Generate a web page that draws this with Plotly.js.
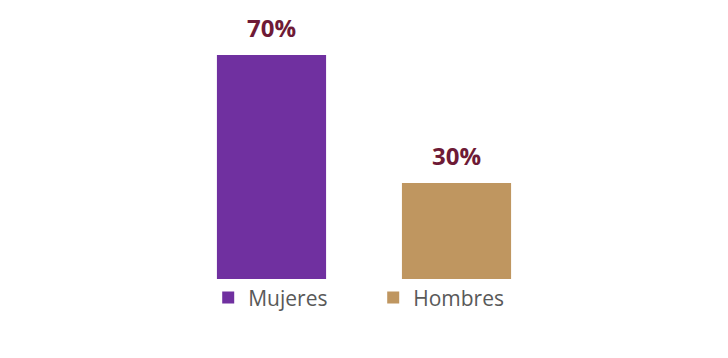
<!DOCTYPE html>
<html><head><meta charset="utf-8">
<script src="https://cdn.plot.ly/plotly-3.0.1.min.js"></script>
<style>body{margin:0;background:#fff}#c{width:728px;height:358px}</style>
</head><body><div id="c"></div>
<script>
const categories = ["Mujeres", "Hombres"];
const values = [70, 30];
const labels = ["70%", "30%"];
const colors = ["#7030A0", "#BF9660"];

const traces = categories.map((c, i) => ({
  type: "bar", name: c, x: [c], y: [values[i]],
  marker: {color: colors[i]}, hoverinfo: "none"
}));

const annotations = categories.map((c, i) => ({
  x: c, y: values[i], xref: "x", yref: "y", text: labels[i], showarrow: false,
  yanchor: "bottom", yshift: 9,
  font: {family: "Open Sans, sans-serif", size: 24, color: "#6E1A36", weight: 700}
}));

Plotly.newPlot("c", traces, {
  width: 728, height: 358, barmode: "relative", bargap: 0.41,
  margin: {l: 179, r: 179, t: 23, b: 79, autoexpand: false},
  paper_bgcolor: "#fff", plot_bgcolor: "#fff",
  xaxis: {categoryorder: "array", categoryarray: categories, visible: false, range: [-0.5, 1.5]},
  yaxis: {range: [0, 80], visible: false},
  annotations: annotations,
  showlegend: true,
  legend: {orientation: "h", xref: "container", x: 0.286, xanchor: "left", yref: "container", y: 0.168, yanchor: "middle",
    bgcolor: "rgba(0,0,0,0)",
    entrywidth: 120, font: {family: "Open Sans, sans-serif", size: 21, color: "#595959"}}
}, {displayModeBar: false, staticPlot: true});
</script></body></html>
